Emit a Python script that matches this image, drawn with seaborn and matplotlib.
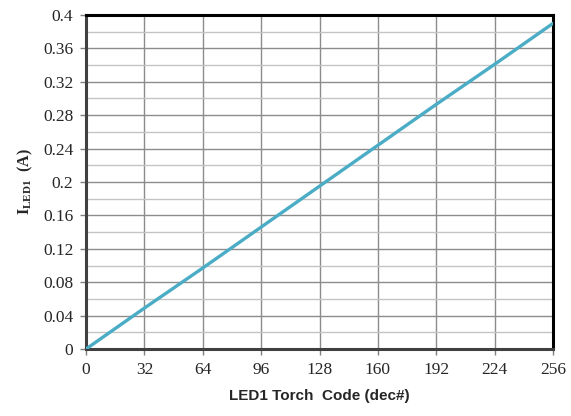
import numpy as np
import pandas as pd
import matplotlib
matplotlib.use("Agg")
import matplotlib.pyplot as plt
from matplotlib.ticker import MultipleLocator
import seaborn as sns

# LED1 torch current vs code
codes = [0, 32, 64, 96, 128, 160, 192, 224, 256]
current = [0.0, 0.049, 0.097, 0.146, 0.195, 0.244, 0.293, 0.341, 0.39]
x_ticks = [0, 32, 64, 96, 128, 160, 192, 224, 256]
y_ticks = [0, 0.04, 0.08, 0.12, 0.16, 0.2, 0.24, 0.28, 0.32, 0.36, 0.4]
y_labels = ["0", "0.04", "0.08", "0.12", "0.16", "0.2", "0.24", "0.28", "0.32", "0.36", "0.4"]

df = pd.DataFrame({"code": codes, "current": current})

sns.set_style("white")
plt.rcParams["mathtext.fontset"] = "custom"
plt.rcParams["mathtext.rm"] = "Liberation Serif"
plt.rcParams["mathtext.bf"] = "Liberation Serif:bold"

fig = plt.figure(figsize=(5.71, 4.16), dpi=100)
ax = fig.add_axes([0.1506, 0.161, 0.818, 0.803])

sns.lineplot(data=df, x="code", y="current", ax=ax, color="#4BACC6", linewidth=2.4, zorder=3)

ax.set_xlim(0, 256)
ax.set_ylim(0, 0.4)
ax.set_xticks(x_ticks)
ax.set_xticklabels([str(t) for t in x_ticks], fontfamily="Liberation Serif", fontsize=12.5)
ax.set_yticks(y_ticks)
ax.set_yticklabels(y_labels, fontfamily="Liberation Serif", fontsize=12.5)
ax.yaxis.set_minor_locator(MultipleLocator(0.02))

ax.grid(True, which="major", axis="both", color="#8C8C8C", linewidth=1.0, zorder=1)
ax.grid(True, which="minor", axis="y", color="#C4C4C4", linewidth=1.0, zorder=1)
ax.set_axisbelow(True)

ax.tick_params(axis="both", which="major", direction="out", length=4, width=1,
               color="#7F7F7F", pad=5, left=True, bottom=True)
ax.tick_params(axis="y", which="minor", length=0)

for side in ["top", "right"]:
    ax.spines[side].set_color("black")
    ax.spines[side].set_linewidth(2.2)
for side in ["left", "bottom"]:
    ax.spines[side].set_color("#404040")
    ax.spines[side].set_linewidth(2.2)

ax.set_xlabel("LED1 Torch  Code (dec#)", fontfamily="Liberation Sans", fontweight="bold",
              fontsize=11, labelpad=8)
ax.set_ylabel(r"$\mathbf{I}_{\mathbf{LED1}}$  (A)", fontfamily="Liberation Serif", fontweight="bold",
              fontsize=11.5, labelpad=6)

fig.savefig("out.png", dpi=100)
plt.close(fig)
